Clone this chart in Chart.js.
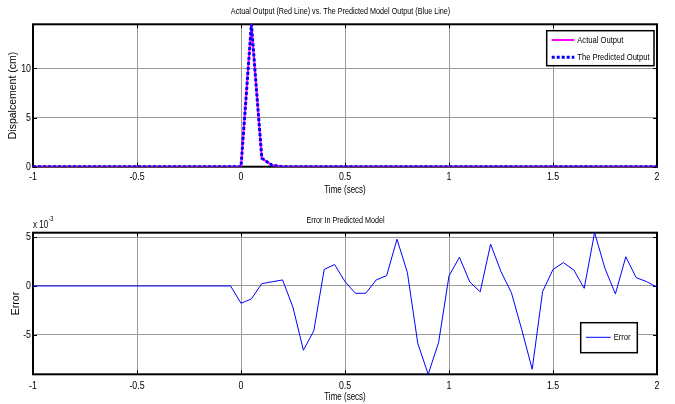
<!DOCTYPE html>
<html>
<head>
<meta charset="utf-8">
<script src="https://cdn.jsdelivr.net/npm/chart.js@4/dist/chart.umd.min.js"></script>
<style>
    body { margin: 0; background: #fff; }
    canvas { position: absolute; left: 0; }
    #outputChart { top: 0; }
    #errorChart { top: 202px; }
</style>
</head>
<body>
<canvas id="outputChart" width="675" height="202"></canvas>
<canvas id="errorChart" width="675" height="202"></canvas>
<script>
// tick labels
const xTicks = [-1, -0.5, 0, 0.5, 1, 1.5, 2]
const outputTicks = [0, 5, 10]
const errorTicks = [-5, 0, 5]

// top plot: displacement (cm)
const outputTime = [-1, 0, 0.05, 0.1, 0.15, 0.2, 2]
const actualOutput = [0, 0, 14.5, 0.86, 0.15, 0, 0]
const predictedOutput = [0, 0, 14.5, 0.86, 0.15, 0, 0]

// bottom plot: error, in units of 10^-3
const errorTime = [-1, -0.05, 0, 0.05, 0.1, 0.15, 0.2, 0.25, 0.3, 0.35, 0.4, 0.45,
    0.5, 0.55, 0.6, 0.65, 0.7, 0.75, 0.8, 0.85, 0.9, 0.95, 1, 1.05, 1.1, 1.15, 1.2,
    1.25, 1.3, 1.35, 1.4, 1.45, 1.5, 1.55, 1.6, 1.65, 1.7, 1.75, 1.8, 1.85, 1.9, 1.95, 2]
const errorValues = [0, 0, -1.78, -1.33, 0.24, 0.43, 0.62, -2.2, -6.6, -4.6, 1.7, 2.2,
    0.45, -0.75, -0.75, 0.62, 1.06, 4.8, 1.37, -5.9, -9.07, -5.8, 1.03, 2.95, 0.41, -0.6, 4.3,
    1.47, -0.69, -4.5, -8.55, -0.58, 1.7, 2.4, 1.64, -0.24, 5.47, 1.8, -0.82, 3.0, 0.85, 0.45, -0.13]

const regular = "'Liberation Sans', Arial, sans-serif"

function points(xs, ys) {
    return xs.map((x, i) => ({ x: x, y: ys[i] }))
}

// no narrow font installed, so squeeze Liberation Sans horizontally
function narrowText(ctx, text, x, y, size, align) {
    ctx.save()
    ctx.font = size + "px " + regular
    ctx.textAlign = align
    ctx.textBaseline = "middle"
    ctx.fillStyle = "#000"
    ctx.translate(x, y)
    ctx.scale(0.8, 1)
    ctx.fillText(text, 0, 0)
    ctx.restore()
}

// box, inward ticks, labels, title, exponent and legend, MATLAB style
const matlabFrame = {
    id: "matlabFrame",
    beforeDatasetsDraw(chart) {
        const { ctx, chartArea: a, scales } = chart
        ctx.save()
        ctx.strokeStyle = "#000"
        ctx.lineWidth = 1
        ctx.beginPath()
        scales.x.ticks.forEach((t) => {
            const px = Math.round(scales.x.getPixelForValue(t.value)) + 0.5
            ctx.moveTo(px, a.top)
            ctx.lineTo(px, a.top + 4)
            ctx.moveTo(px, a.bottom)
            ctx.lineTo(px, a.bottom - 4)
        })
        scales.y.ticks.forEach((t) => {
            const py = Math.round(scales.y.getPixelForValue(t.value)) + 0.5
            ctx.moveTo(a.left, py)
            ctx.lineTo(a.left + 4, py)
            ctx.moveTo(a.right, py)
            ctx.lineTo(a.right - 4, py)
        })
        ctx.stroke()
        ctx.lineWidth = 2
        ctx.strokeRect(a.left, a.top, a.right - a.left, a.bottom - a.top)
        ctx.restore()
    },
    afterDraw(chart, args, opts) {
        const { ctx, chartArea: a, scales } = chart

        scales.x.ticks.forEach((t) => {
            narrowText(ctx, String(t.value), scales.x.getPixelForValue(t.value), a.bottom + opts.tickOffset, 11, "center")
        })
        scales.y.ticks.forEach((t) => {
            narrowText(ctx, String(t.value), a.left - 2, scales.y.getPixelForValue(t.value), 11, "right")
        })
        narrowText(ctx, "Time (secs)", (a.left + a.right) / 2, a.bottom + opts.xTitleOffset, 10, "center")
        narrowText(ctx, opts.title, opts.titleX, opts.titleY, 9, "center")

        if (opts.exponent) {
            narrowText(ctx, "x 10", a.left, a.top - 7.5, 10, "left")
            narrowText(ctx, "-3", a.left + 15.5, a.top - 14, 7, "left")
        }

        const lg = opts.legend
        ctx.save()
        ctx.fillStyle = "#fff"
        ctx.fillRect(lg.x, lg.y, lg.w, lg.h)
        ctx.strokeStyle = "#000"
        ctx.lineWidth = 1.5
        ctx.strokeRect(lg.x, lg.y, lg.w, lg.h)
        ctx.restore()

        chart.data.datasets.forEach((ds, i) => {
            const y = lg.y + lg.firstRow + i * lg.rowH
            ctx.save()
            ctx.strokeStyle = ds.borderColor
            ctx.lineWidth = ds.borderWidth
            ctx.setLineDash(ds.borderDash || [])
            ctx.beginPath()
            ctx.moveTo(lg.x + lg.lineStart, y)
            ctx.lineTo(lg.x + lg.lineStart + lg.lineLen, y)
            ctx.stroke()
            ctx.restore()
            narrowText(ctx, ds.label, lg.x + lg.lineStart + lg.lineLen + 3, y, 9.5, "left")
        })
    }
}

function baseScales(opt) {
    return {
        x: {
            type: "linear",
            min: -1,
            max: 2,
            afterBuildTicks: (s) => { s.ticks = xTicks.map(v => ({ value: v })) },
            afterFit: (s) => { s.height = opt.xHeight },
            ticks: { display: false },
            grid: { color: "#9a9a9a", drawTicks: false },
            border: { display: false }
        },
        y: {
            min: opt.yMin,
            max: opt.yMax,
            afterBuildTicks: (s) => { s.ticks = opt.yTicks.map(v => ({ value: v })) },
            afterFit: (s) => { s.width = 33 },
            ticks: { display: false },
            grid: { color: "#9a9a9a", drawTicks: false },
            border: { display: false },
            title: {
                display: true,
                text: opt.yTitle,
                color: "#000",
                font: { family: regular, size: 10.5 },
                padding: { top: opt.yTitlePad, bottom: 0 }
            }
        }
    }
}

new Chart(document.getElementById("outputChart"), {
    type: "line",
    data: {
        datasets: [{
            label: "Actual Output",
            data: points(outputTime, actualOutput),
            borderColor: "#ff00ff",
            borderWidth: 2,
            pointRadius: 0,
            order: 1
        }, {
            label: "The Predicted Output",
            data: points(outputTime, predictedOutput),
            borderColor: "#0000ff",
            borderWidth: 3,
            borderDash: [3, 2],
            pointRadius: 0,
            order: 0
        }]
    },
    options: {
        responsive: false,
        animation: false,
        devicePixelRatio: 1,
        layout: { padding: { top: 24.3, right: 18, left: 0, bottom: 0 } },
        plugins: {
            legend: { display: false },
            tooltip: { enabled: false },
            matlabFrame: {
                title: "Actual Output (Red Line) vs. The Predicted Model Output (Blue Line)",
                titleX: 340.5,
                titleY: 11.3,
                tickOffset: 10.3,
                xTitleOffset: 23.3,
                legend: { x: 546.7, y: 30.7, w: 107.3, h: 35, firstRow: 9.3, rowH: 17.3, lineStart: 5, lineLen: 22.6 }
            }
        },
        scales: baseScales({
            xHeight: 35.3,
            yMin: 0, yMax: 14.5, yTicks: outputTicks,
            yTitle: "Dispalcement (cm)", yTitlePad: 7.3
        })
    },
    plugins: [matlabFrame]
})

new Chart(document.getElementById("errorChart"), {
    type: "line",
    data: {
        datasets: [{
            label: "Error",
            data: points(errorTime, errorValues),
            borderColor: "#0000ff",
            borderWidth: 1,
            pointRadius: 0
        }]
    },
    options: {
        responsive: false,
        animation: false,
        devicePixelRatio: 1,
        layout: { padding: { top: 30.7, right: 18, left: 0, bottom: 0 } },
        plugins: {
            legend: { display: false },
            tooltip: { enabled: false },
            matlabFrame: {
                title: "Error In Predicted Model",
                titleX: 345.5,
                titleY: 19,
                exponent: true,
                tickOffset: 11.4,
                xTitleOffset: 22.7,
                legend: { x: 580.7, y: 120.7, w: 56.6, h: 30, firstRow: 14.6, rowH: 0, lineStart: 5.3, lineLen: 24.7 }
            }
        },
        scales: baseScales({
            xHeight: 29.7,
            yMin: -9.07, yMax: 5.47, yTicks: errorTicks,
            yTitle: "Error", yTitlePad: 10
        })
    },
    plugins: [matlabFrame]
})
</script>
</body>
</html>
